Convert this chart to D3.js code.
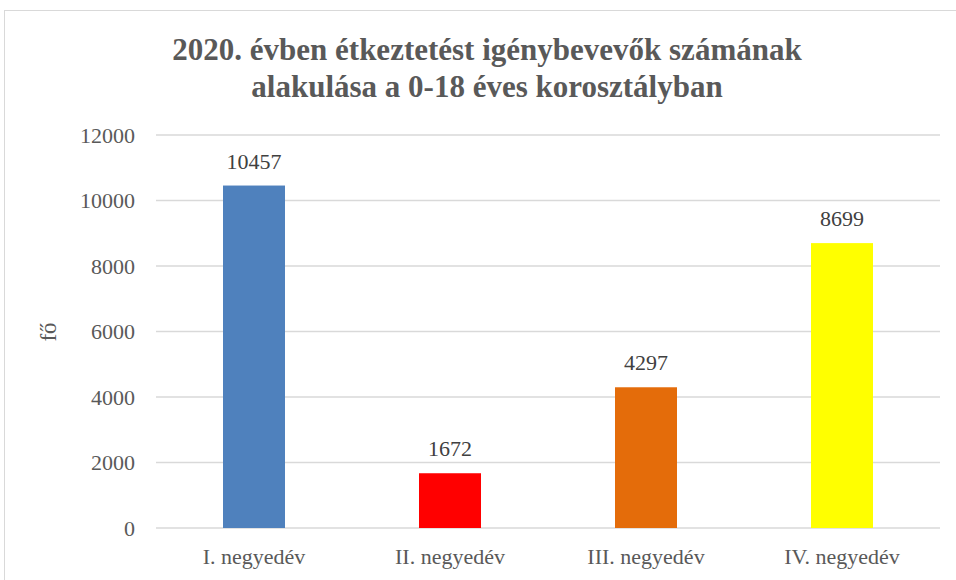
<!DOCTYPE html>
<meta charset="utf-8">
<head>
  <title>Étkeztetés 2020</title>
</head>
<style>
  html, body {
    margin: 0;
    padding: 0;
    background: #fff;
    overflow: hidden;
  }
  svg text {
    font-family: "Liberation Serif", "DejaVu Serif", serif;
  }
</style>
<body>
<svg id="chart" width="956" height="580"></svg>
<script src="https://d3js.org/d3.v7.min.js"></script>
<script>
var categories = ['I. negyedév', 'II. negyedév', 'III. negyedév', 'IV. negyedév'];
var values = [10457, 1672, 4297, 8699];
var barColors = ['#4f81bd', '#ff0000', '#e46c0a', '#ffff00'];
var yTicks = [0, 2000, 4000, 6000, 8000, 10000, 12000];
var titleLines = ['2020. évben étkeztetést igénybevevők számának', 'alakulása a 0-18 éves korosztályban'];
var yLabel = 'fő';

var svg = d3.select('#chart');
// plot area (don't use "top" - window.top is read only)
var plotL = 156, plotR = 940, plotT = 135, plotB = 528;

// chart frame
svg.append('rect')
  .attr('x', 4.5).attr('y', 10.5)
  .attr('width', 1000).attr('height', 1000)
  .attr('fill', 'none')
  .attr('stroke', '#d9d9d9');

var x = d3.scaleBand().domain(categories).range([plotL, plotR]);
var y = d3.scaleLinear().domain([0, 12000]).range([plotB, plotT]);
var barW = 62;

// gridlines
svg.append('g').selectAll('line').data(yTicks).enter()
  .append('line')
  .attr('x1', plotL).attr('x2', plotR)
  .attr('y1', function(d) { return y(d); })
  .attr('y2', function(d) { return y(d); })
  .attr('stroke', '#d9d9d9')
  .attr('stroke-width', 1.5);

// y axis labels
var yAxis = d3.axisLeft(y).tickValues(yTicks).tickSize(0).tickPadding(21).tickFormat(d3.format('d'));
var ya = svg.append('g').attr('transform', 'translate(' + plotL + ',0)').call(yAxis);
ya.select('.domain').remove();
ya.selectAll('text')
  .attr('fill', '#595959')
  .style('font-size', '22px')
  .style('font-family', '"Liberation Serif", serif');

// x axis labels
var xAxis = d3.axisBottom(x).tickSize(0).tickPadding(20);
var xa = svg.append('g').attr('transform', 'translate(0,' + plotB + ')').call(xAxis);
xa.select('.domain').remove();
xa.selectAll('text')
  .attr('fill', '#595959')
  .style('font-size', '22px')
  .style('font-family', '"Liberation Serif", serif');

// bars
svg.append('g').selectAll('rect').data(values).enter()
  .append('rect')
  .attr('x', function(d, i) { return x(categories[i]) + x.bandwidth() / 2 - barW / 2; })
  .attr('y', function(d) { return y(d); })
  .attr('width', barW)
  .attr('height', function(d) { return plotB - y(d); })
  .attr('fill', function(d, i) { return barColors[i]; });

// value labels
svg.append('g').selectAll('text').data(values).enter()
  .append('text')
  .attr('x', function(d, i) { return x(categories[i]) + x.bandwidth() / 2; })
  .attr('y', function(d) { return y(d) - 17; })
  .attr('text-anchor', 'middle')
  .attr('fill', '#404040')
  .style('font-size', '22px')
  .text(function(d) { return d; });

// title
svg.append('g').selectAll('text').data(titleLines).enter()
  .append('text')
  .attr('x', 487)
  .attr('y', function(d, i) { return 60 + i * 37; })
  .attr('text-anchor', 'middle')
  .attr('fill', '#595959')
  .style('font-size', '31px')
  .style('font-weight', 'bold')
  .text(function(d) { return d; });

// y axis title
svg.append('text')
  .attr('transform', 'translate(56,332) rotate(-90)')
  .attr('text-anchor', 'middle')
  .attr('fill', '#595959')
  .style('font-size', '23px')
  .text(yLabel);
</script>
</body>
